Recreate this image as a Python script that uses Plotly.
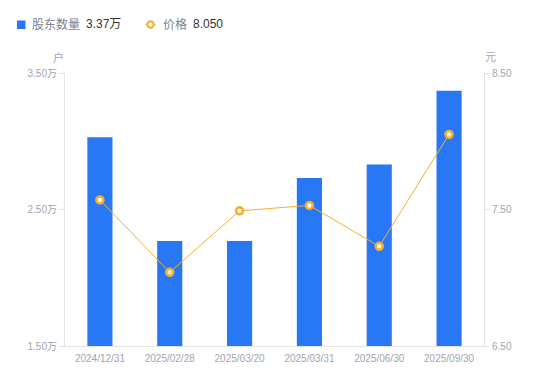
import plotly.graph_objects as go

dates = ["2024/12/31", "2025/02/28", "2025/03/20", "2025/03/31", "2025/06/30", "2025/09/30"]
holders = [3.03, 2.27, 2.27, 2.73, 2.83, 3.37]  # 万户
price = [7.57, 7.04, 7.49, 7.53, 7.23, 8.05]

left_ticks = [1.5, 2.5, 3.5]
left_text = ["1.50万", "2.50万", "3.50万"]
right_ticks = [6.5, 7.5, 8.5]
right_text = ["6.50", "7.50", "8.50"]

holder_name, holder_last = "股东数量", "3.37万"
price_name, price_last = "价格", "8.050"

BLUE = "#2878f5"
ORANGE = "#f7ad2e"
TICK = "#a3a3b3"
AXIS = "#e3e3e8"
FONT = "Liberation Sans, Arial, Noto Sans CJK SC, sans-serif"

# plot area in pixels
L, R, T, B = 65, 484, 73, 346
W, H = R - L, B - T


def px(x):
    return (x - L) / W


def py(y):
    return (B - y) / H


fig = go.Figure()
fig.add_trace(go.Bar(
    x=dates, y=holders, name=holder_name,
    marker=dict(color=BLUE, line=dict(width=0)), width=0.36, yaxis="y",
))
fig.add_trace(go.Scatter(
    x=dates, y=price, name=price_name,
    mode="lines+markers", yaxis="y2",
    line=dict(color=ORANGE, width=1),
    marker=dict(color="#fff8e6", size=7, line=dict(color=ORANGE, width=2.5)),
))

LY = 24.5
shapes = [
    dict(type="rect", xref="paper", yref="paper", x0=px(17), x1=px(25.5),
         y0=py(29), y1=py(20.5), fillcolor=BLUE, line=dict(width=0)),
    dict(type="line", xref="paper", yref="paper", x0=px(145.5), x1=px(155.5),
         y0=py(LY), y1=py(LY), line=dict(color=ORANGE, width=1.5)),
    dict(type="circle", xref="paper", yref="paper", x0=px(147.3), x1=px(153.7),
         y0=py(LY + 3.2), y1=py(LY - 3.2), fillcolor="#fff8e6",
         line=dict(color=ORANGE, width=2)),
]


def label(text, x, color, size=12):
    return dict(text=text, xref="paper", yref="paper", x=px(x), y=py(LY),
                xanchor="left", yanchor="middle", showarrow=False,
                font=dict(size=size, color=color, family=FONT), borderpad=0)


annotations = [
    label(holder_name, 31, "#80808c"),
    label(holder_last, 84.5, "#333333"),
    label(price_name, 161.5, "#80808c"),
    label(price_last, 191.5, "#333333"),
    dict(text="户", xref="paper", yref="paper", x=px(58), y=py(57),
         xanchor="center", yanchor="middle", showarrow=False,
         font=dict(size=11, color=TICK, family=FONT)),
    dict(text="元", xref="paper", yref="paper", x=px(490), y=py(57),
         xanchor="center", yanchor="middle", showarrow=False,
         font=dict(size=11, color=TICK, family=FONT)),
]

fig.update_layout(
    width=550, height=381,
    margin=dict(l=L, r=550 - R, t=T, b=381 - B, autoexpand=False),
    plot_bgcolor="white", paper_bgcolor="white",
    font=dict(family=FONT, size=10, color=TICK),
    showlegend=False,
    hovermode=False,
    shapes=shapes,
    annotations=annotations,
    xaxis=dict(type="category", showline=True, linecolor=AXIS, linewidth=1,
               showgrid=False, ticks="", ticklabelstandoff=3,
               tickfont=dict(size=10, color=TICK), zeroline=False),
    yaxis=dict(range=[1.5, 3.5], tickvals=left_ticks, ticktext=left_text,
               showline=True, linecolor=AXIS, linewidth=1, showgrid=False,
               ticks="outside", ticklen=5, tickcolor=AXIS, zeroline=False,
               tickfont=dict(size=10, color=TICK)),
    yaxis2=dict(range=[6.5, 8.5], tickvals=right_ticks, ticktext=right_text,
                overlaying="y", side="right",
                showline=True, linecolor=AXIS, linewidth=1, showgrid=False,
                ticks="outside", ticklen=5, tickcolor=AXIS, zeroline=False,
                tickfont=dict(size=10, color=TICK)),
)

fig.write_html(
    "out.html",
    config={"displayModeBar": False},
    post_script="document.body.style.margin='0';document.body.style.padding='0';",
)
